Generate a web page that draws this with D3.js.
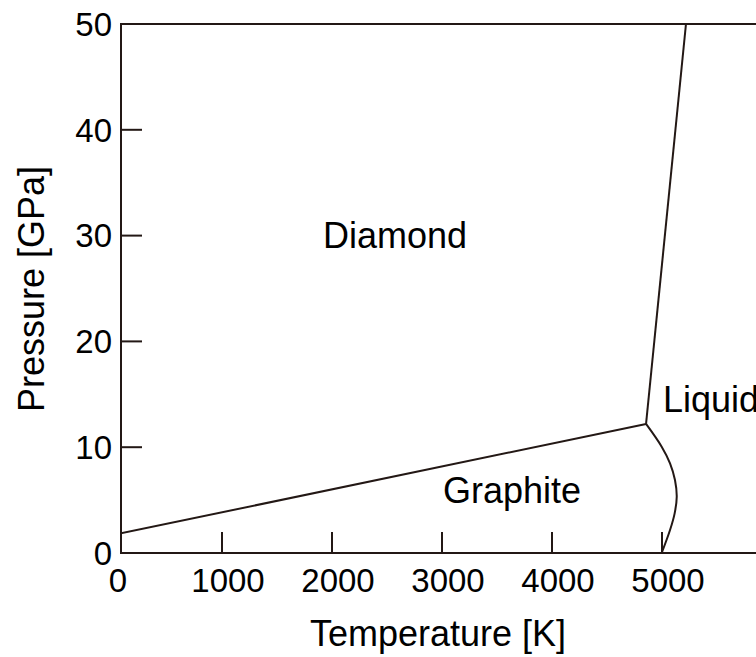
<!DOCTYPE html>
<html>
<head>
<meta charset="utf-8">
<script src="https://cdn.jsdelivr.net/npm/d3@7"></script>
<style>
  html, body { margin: 0; padding: 0; background: #fff; }
  svg { display: block; font-family: "Liberation Sans", Arial, Helvetica, sans-serif; }
</style>
</head>
<body>
<div id="chart"></div>
<script>
// tick labels
let temperatureTicks = [0, 1000, 2000, 3000, 4000, 5000];
let pressureTicks = [0, 10, 20, 30, 40, 50];

// phase boundaries, temperature [K] vs pressure [GPa]
let graphiteDiamond = [
  { t: 0, p: 1.68 },
  { t: 4855, p: 12.2 }
];
let diamondLiquid = [
  { t: 4855, p: 12.2 },
  { t: 5218, p: 50 }
];
let graphiteLiquid = [
  { t: 4855, p: 12.2 },
  { t: 4997, p: 10.05 },
  { t: 5073, p: 8.48 },
  { t: 5118, p: 6.9 },
  { t: 5134, p: 5.32 },
  { t: 5115, p: 3.75 },
  { t: 5073, p: 2.17 },
  { t: 4997, p: 0 }
];

// phase names
let phases = [
  { name: 'Diamond', t: 1918, p: 28.8 },
  { name: 'Graphite', t: 3009, p: 4.7 },
  { name: 'Liquid', t: 5009, p: 13.3 }
];

let width = 756, height = 657;
let ink = '#231815';
let frameLeft = 121;

let x = d3.scaleLinear().domain([0, 6000]).range([112, 772]);
let y = d3.scaleLinear().domain([0, 50]).range([553, 24]);

let svg = d3.select('#chart')
  .append('svg')
  .attr('width', width)
  .attr('height', height)
  .attr('viewBox', `0 0 ${width} ${height}`);

svg.append('defs')
  .append('clipPath')
  .attr('id', 'plot')
  .append('rect')
  .attr('x', frameLeft)
  .attr('y', y(50))
  .attr('width', x(6000) - frameLeft)
  .attr('height', y(0) - y(50));

// frame: left, top and bottom
svg.append('path')
  .attr('d', `M${x(6000)},${y(50)}H${frameLeft}V${y(0)}H${x(6000)}`)
  .attr('fill', 'none')
  .attr('stroke', ink)
  .attr('stroke-width', 2);

// x ticks, pointing up into the plot
svg.append('g')
  .selectAll('line')
  .data(temperatureTicks.filter(d => d > 0))
  .enter().append('line')
  .attr('x1', d => x(d))
  .attr('x2', d => x(d))
  .attr('y1', y(0))
  .attr('y2', y(0) - 21)
  .attr('stroke', ink)
  .attr('stroke-width', 2);

svg.append('g')
  .selectAll('text')
  .data(temperatureTicks)
  .enter().append('text')
  .attr('x', d => x(d) + 6)
  .attr('y', 592)
  .attr('text-anchor', 'middle')
  .attr('font-size', 33)
  .attr('fill', '#000')
  .text(d => d);

// y ticks, pointing right into the plot
svg.append('g')
  .selectAll('line')
  .data(pressureTicks.filter(d => d > 0 && d < 50))
  .enter().append('line')
  .attr('x1', frameLeft)
  .attr('x2', frameLeft + 21)
  .attr('y1', d => y(d))
  .attr('y2', d => y(d))
  .attr('stroke', ink)
  .attr('stroke-width', 2);

svg.append('g')
  .selectAll('text')
  .data(pressureTicks)
  .enter().append('text')
  .attr('x', 112)
  .attr('y', d => y(d))
  .attr('dy', '0.36em')
  .attr('text-anchor', 'end')
  .attr('font-size', 33)
  .attr('fill', '#000')
  .text(d => d);

// axis titles
svg.append('text')
  .attr('x', 438)
  .attr('y', 646)
  .attr('text-anchor', 'middle')
  .attr('font-size', 36)
  .attr('fill', '#000')
  .text('Temperature [K]');

svg.append('text')
  .attr('transform', 'translate(44,289) rotate(-90)')
  .attr('text-anchor', 'middle')
  .attr('font-size', 36)
  .attr('fill', '#000')
  .text('Pressure [GPa]');

// phase boundaries
let line = d3.line().x(d => x(d.t)).y(d => y(d.p));
let curve = d3.line().x(d => x(d.t)).y(d => y(d.p)).curve(d3.curveCatmullRom);

let lines = svg.append('g').attr('clip-path', 'url(#plot)');
[graphiteDiamond, diamondLiquid].forEach(data => {
  lines.append('path')
    .attr('d', line(data))
    .attr('fill', 'none')
    .attr('stroke', ink)
    .attr('stroke-width', 2);
});
lines.append('path')
  .attr('d', curve(graphiteLiquid))
  .attr('fill', 'none')
  .attr('stroke', ink)
  .attr('stroke-width', 2);

svg.append('g')
  .selectAll('text')
  .data(phases)
  .enter().append('text')
  .attr('x', d => x(d.t))
  .attr('y', d => y(d.p))
  .attr('font-size', 36)
  .attr('fill', '#000')
  .text(d => d.name);
</script>
</body>
</html>
